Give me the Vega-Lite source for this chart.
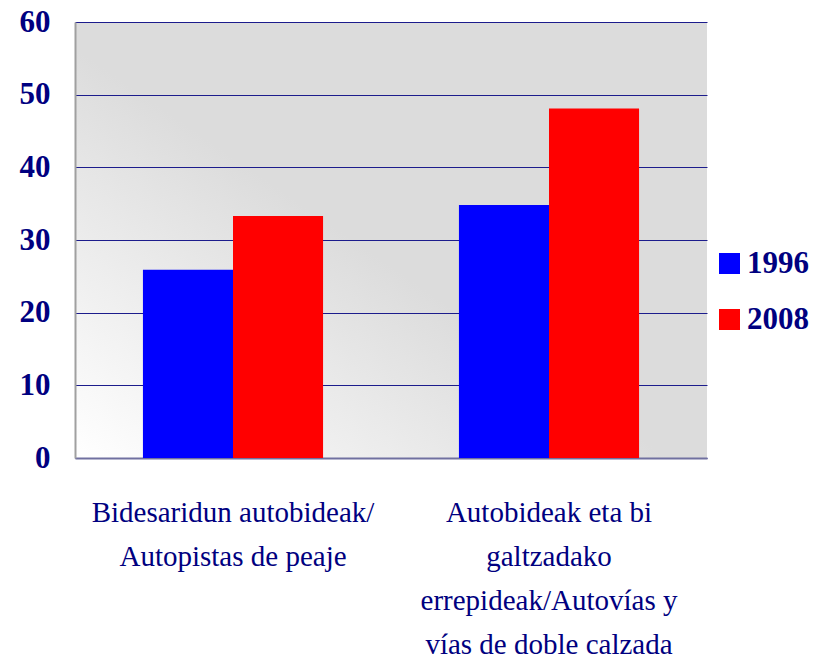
{
  "$schema": "https://vega.github.io/schema/vega-lite/v6.json",
  "width": 632,
  "height": 436,
  "autosize": {"type": "none"},
  "padding": {"left": 75, "top": 22, "right": 113, "bottom": 206},
  "background": "white",
  "data": {
    "values": [
      {"category": "Bidesaridun autobideak/|Autopistas de peaje", "year": "1996", "value": 25.9},
      {"category": "Bidesaridun autobideak/|Autopistas de peaje", "year": "2008", "value": 33.3},
      {"category": "Autobideak eta bi|galtzadako|errepideak/Autovías y|vías de doble calzada", "year": "1996", "value": 34.8},
      {"category": "Autobideak eta bi|galtzadako|errepideak/Autovías y|vías de doble calzada", "year": "2008", "value": 48.1}
    ]
  },
  "mark": {"type": "bar"},
  "encoding": {
    "x": {
      "field": "category",
      "type": "nominal",
      "sort": null,
      "scale": {"paddingInner": 0.43, "paddingOuter": 0.215},
      "axis": {
        "title": null,
        "ticks": false,
        "labelAngle": 0,
        "labelExpr": "split(datum.label, '|')",
        "labelFont": "Liberation Serif",
        "labelFontSize": 29,
        "labelColor": "#000080",
        "labelLineHeight": 44,
        "labelPadding": 40,
        "labelLimit": 0,
        "domainColor": "#7070a0",
        "domainWidth": 2
      }
    },
    "xOffset": {"field": "year", "type": "nominal", "scale": {"paddingInner": 0, "paddingOuter": 0}},
    "y": {
      "field": "value",
      "type": "quantitative",
      "scale": {"domain": [0, 60]},
      "axis": {
        "title": null,
        "ticks": false,
        "values": [0, 10, 20, 30, 40, 50, 60],
        "labelFont": "Liberation Serif",
        "labelFontSize": 31,
        "labelFontWeight": "bold",
        "labelColor": "#000080",
        "labelPadding": 25,
        "grid": true,
        "gridColor": "#1c1c8c",
        "gridWidth": 1,
        "domainColor": "#a0a0a0",
        "domainWidth": 2
      }
    },
    "color": {
      "field": "year",
      "type": "nominal",
      "scale": {"range": ["#0000ff", "#ff0000"]},
      "legend": {
        "title": null,
        "orient": "none",
        "legendX": 639,
        "legendY": 226,
        "symbolType": "square",
        "symbolSize": 441,
        "symbolStrokeWidth": 0,
        "symbolOpacity": 1,
        "labelFont": "Liberation Serif",
        "labelFontSize": 31,
        "labelFontWeight": "bold",
        "labelColor": "#000080",
        "labelOffset": 2,
        "rowPadding": 24
      }
    }
  },
  "config": {
    "view": {
      "stroke": null,
      "fill": {
        "gradient": "linear",
        "x1": 0, "y1": 1, "x2": 1, "y2": 0,
        "stops": [
          {"offset": 0, "color": "#ffffff"},
          {"offset": 0.47, "color": "#dcdcdc"},
          {"offset": 1, "color": "#dcdcdc"}
        ]
      }
    }
  }
}
